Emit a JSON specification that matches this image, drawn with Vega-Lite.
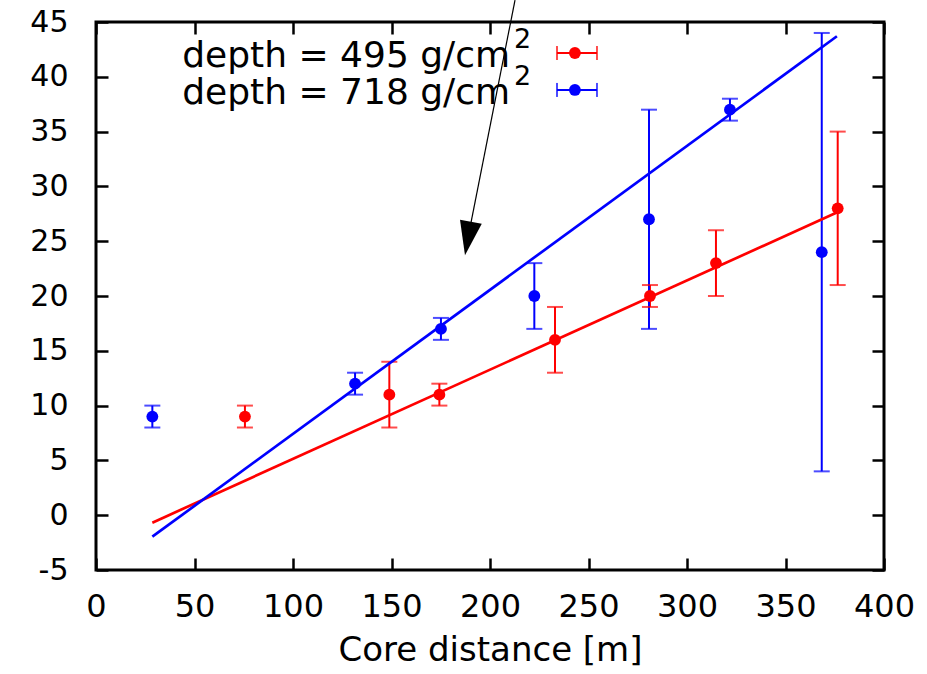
{
  "$schema": "https://vega.github.io/schema/vega-lite/v6.json",
  "width": 788,
  "height": 548,
  "autosize": {"type": "none"},
  "padding": {"left": 96, "top": 22, "right": 43, "bottom": 104},
  "background": "white",
  "config": {
    "view": {"stroke": "black", "strokeWidth": 3},
    "font": "DejaVu Sans",
    "axis": {
      "domain": false,
      "grid": false,
      "tickColor": "black",
      "tickWidth": 2.5,
      "tickSize": -12,
      "labelColor": "black",
      "labelFont": "DejaVu Sans",
      "titleFont": "DejaVu Sans",
      "titleColor": "black",
      "titleFontWeight": "normal",
      "labelFlush": false,
      "labelOverlap": false
    }
  },
  "datasets": {
    "pts": [
      {"series": "495", "x": 75.6, "y": 9, "lo": 8, "hi": 10},
      {"series": "495", "x": 148.9, "y": 11, "lo": 8, "hi": 14},
      {"series": "495", "x": 174.3, "y": 11, "lo": 10, "hi": 12},
      {"series": "495", "x": 233, "y": 16, "lo": 13, "hi": 19},
      {"series": "495", "x": 281.2, "y": 20, "lo": 19, "hi": 21},
      {"series": "495", "x": 314.7, "y": 23, "lo": 20, "hi": 26},
      {"series": "495", "x": 376.5, "y": 28, "lo": 21, "hi": 35},
      {"series": "718", "x": 28.6, "y": 9, "lo": 8, "hi": 10},
      {"series": "718", "x": 131.5, "y": 12, "lo": 11, "hi": 13},
      {"series": "718", "x": 175.1, "y": 17, "lo": 16, "hi": 18},
      {"series": "718", "x": 222.5, "y": 20, "lo": 17, "hi": 23},
      {"series": "718", "x": 280.7, "y": 27, "lo": 17, "hi": 37},
      {"series": "718", "x": 321.8, "y": 37, "lo": 36, "hi": 38},
      {"series": "718", "x": 368.4, "y": 24, "lo": 4, "hi": 44}
    ],
    "fits": [
      {"series": "495", "x": 28.6, "y": -0.68},
      {"series": "495", "x": 376.6, "y": 27.66},
      {"series": "718", "x": 28.6, "y": -1.96},
      {"series": "718", "x": 376.1, "y": 43.7}
    ],
    "legend": [
      {"series": "495", "label": "depth = 495 g/cm", "sup": "2", "tx": 210.2, "ly": 42.17, "x1": 234, "x2": 254.3, "xm": 243.1},
      {"series": "718", "label": "depth = 718 g/cm", "sup": "2", "tx": 210.2, "ly": 38.8, "x1": 234, "x2": 254.3, "xm": 243.1}
    ],
    "arrow": [
      {"x": 212.7, "y": 47.0, "x2": 190.4, "y2": 26.75, "hx": 188.8, "hy": 25.25}
    ]
  },
  "layer": [
    {
      "layer": [
        {
          "data": {"name": "pts"},
          "mark": {"type": "rule", "strokeWidth": 2},
          "encoding": {
            "x": {"field": "x", "type": "quantitative", "scale": {"domain": [0, 400], "nice": false, "zero": false},
                  "axis": {"orient": "bottom", "values": [0, 50, 100, 150, 200, 250, 300, 350, 400], "labelFontSize": 32, "labelPadding": 33, "title": "Core distance [m]", "titleFontSize": 34, "titlePadding": 11}},
            "y": {"field": "lo", "type": "quantitative", "scale": {"domain": [-5, 45], "nice": false, "zero": false},
                  "axis": {"orient": "left", "values": [-5, 0, 5, 10, 15, 20, 25, 30, 35, 40, 45], "labelFontSize": 30, "labelPadding": 40, "title": null, "labelExpr": "replace(datum.label, '\u2212', '-')"}},
            "y2": {"field": "hi"},
            "color": {"field": "series", "type": "nominal", "scale": {"domain": ["495", "718"], "range": ["#ff0000", "#0000ff"]}, "legend": null}
          }
        },
        {
          "data": {"name": "pts"},
          "mark": {"type": "tick", "orient": "horizontal", "size": 16, "thickness": 2},
          "encoding": {
            "x": {"field": "x", "type": "quantitative"},
            "y": {"field": "lo", "type": "quantitative"},
            "color": {"field": "series", "type": "nominal"}
          }
        },
        {
          "data": {"name": "pts"},
          "mark": {"type": "tick", "orient": "horizontal", "size": 16, "thickness": 2},
          "encoding": {
            "x": {"field": "x", "type": "quantitative"},
            "y": {"field": "hi", "type": "quantitative"},
            "color": {"field": "series", "type": "nominal"}
          }
        },
        {
          "data": {"name": "pts"},
          "mark": {"type": "point", "shape": "circle", "filled": true, "opacity": 1, "size": 140},
          "encoding": {
            "x": {"field": "x", "type": "quantitative"},
            "y": {"field": "y", "type": "quantitative"},
            "color": {"field": "series", "type": "nominal"}
          }
        },
        {
          "data": {"name": "fits"},
          "mark": {"type": "line", "strokeWidth": 2.7},
          "encoding": {
            "x": {"field": "x", "type": "quantitative"},
            "y": {"field": "y", "type": "quantitative"},
            "color": {"field": "series", "type": "nominal"},
            "detail": {"field": "series"}
          }
        },
        {
          "data": {"name": "legend"},
          "mark": {"type": "rule", "strokeWidth": 2},
          "encoding": {
            "x": {"field": "x1", "type": "quantitative"},
            "x2": {"field": "x2"},
            "y": {"field": "ly", "type": "quantitative"},
            "color": {"field": "series", "type": "nominal"}
          }
        },
        {
          "data": {"name": "legend"},
          "mark": {"type": "tick", "orient": "vertical", "size": 14, "thickness": 2},
          "encoding": {
            "x": {"field": "x1", "type": "quantitative"},
            "y": {"field": "ly", "type": "quantitative"},
            "color": {"field": "series", "type": "nominal"}
          }
        },
        {
          "data": {"name": "legend"},
          "mark": {"type": "tick", "orient": "vertical", "size": 14, "thickness": 2},
          "encoding": {
            "x": {"field": "x2", "type": "quantitative"},
            "y": {"field": "ly", "type": "quantitative"},
            "color": {"field": "series", "type": "nominal"}
          }
        },
        {
          "data": {"name": "legend"},
          "mark": {"type": "point", "shape": "circle", "filled": true, "opacity": 1, "size": 140},
          "encoding": {
            "x": {"field": "xm", "type": "quantitative"},
            "y": {"field": "ly", "type": "quantitative"},
            "color": {"field": "series", "type": "nominal"}
          }
        },
        {
          "data": {"name": "legend"},
          "mark": {"type": "text", "align": "right", "baseline": "alphabetic", "dy": 14, "fontSize": 36, "font": "DejaVu Sans", "color": "black"},
          "encoding": {
            "x": {"field": "tx", "type": "quantitative"},
            "y": {"field": "ly", "type": "quantitative"},
            "text": {"field": "label"}
          }
        },
        {
          "data": {"name": "legend"},
          "mark": {"type": "text", "align": "left", "baseline": "alphabetic", "dx": 4, "dy": -5, "fontSize": 27, "font": "DejaVu Sans", "color": "black"},
          "encoding": {
            "x": {"field": "tx", "type": "quantitative"},
            "y": {"field": "ly", "type": "quantitative"},
            "text": {"field": "sup"}
          }
        },
        {
          "data": {"name": "arrow"},
          "mark": {"type": "rule", "color": "black", "strokeWidth": 1.2},
          "encoding": {
            "x": {"field": "x", "type": "quantitative"},
            "y": {"field": "y", "type": "quantitative"},
            "x2": {"field": "x2"},
            "y2": {"field": "y2"}
          }
        },
        {
          "data": {"name": "arrow"},
          "mark": {"type": "point", "shape": "M -0.65 -1 L 0.65 -1 L 0 1 Z", "filled": true, "color": "black", "opacity": 1, "size": 1156, "angle": 10},
          "encoding": {
            "x": {"field": "hx", "type": "quantitative"},
            "y": {"field": "hy", "type": "quantitative"}
          }
        }
      ]
    },
    {
      "data": {"name": "arrow"},
      "mark": {"type": "point", "opacity": 0},
      "encoding": {
        "x": {"field": "hx", "type": "quantitative",
              "axis": {"orient": "top", "values": [0, 50, 100, 150, 200, 250, 300, 350, 400], "labels": false, "title": null}},
        "y": {"field": "hy", "type": "quantitative",
              "axis": {"orient": "right", "values": [-5, 0, 5, 10, 15, 20, 25, 30, 35, 40, 45], "labels": false, "title": null}}
      }
    }
  ],
  "resolve": {"axis": {"x": "independent", "y": "independent"}}
}
